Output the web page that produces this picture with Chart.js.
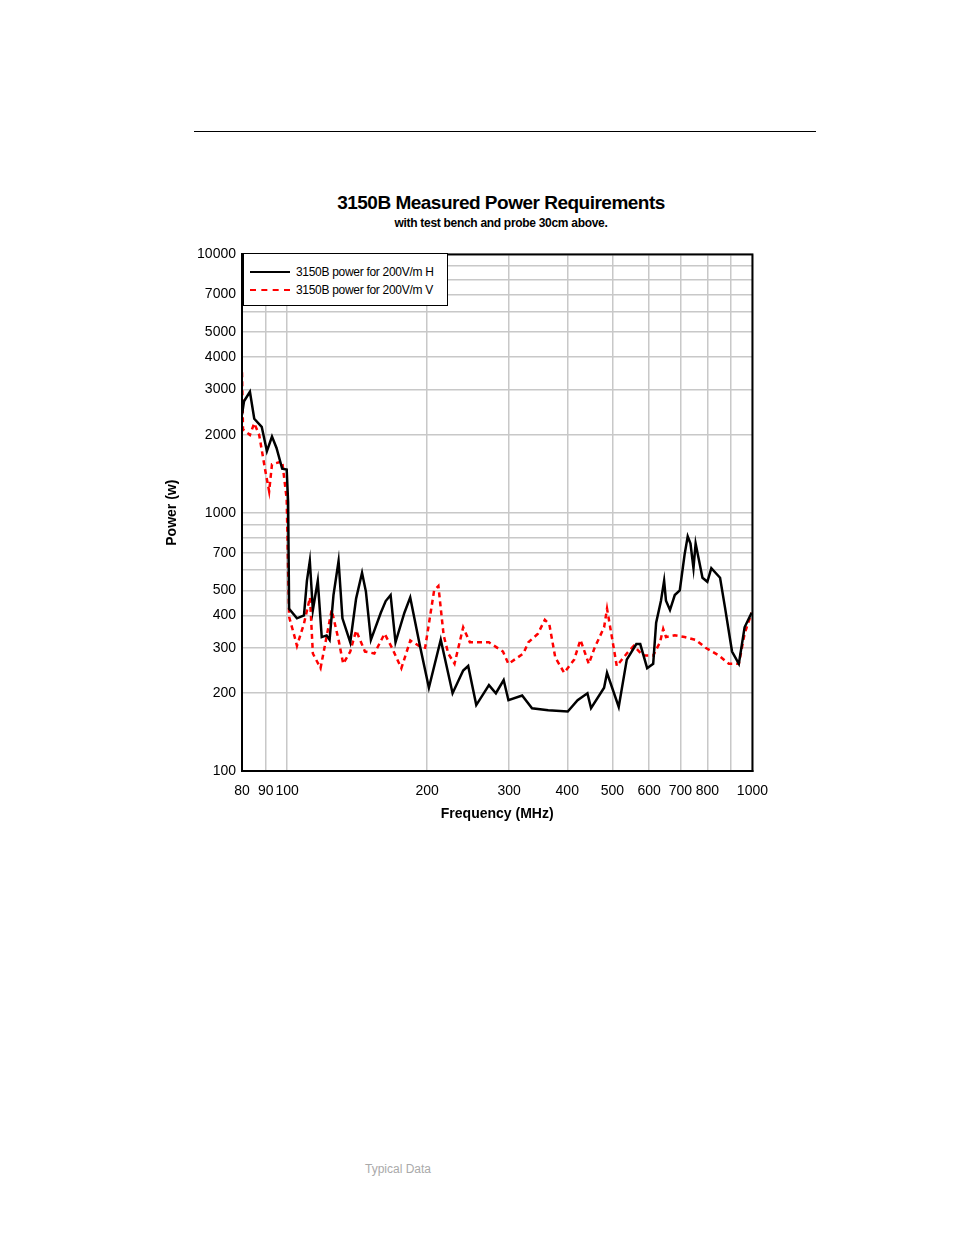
<!DOCTYPE html>
<html>
<head>
<meta charset="utf-8">
<script src="https://cdn.jsdelivr.net/npm/chart.js@4"></script>
<style>
  body { margin: 0; width: 954px; height: 1235px; background: #fff; position: relative; font-family: "Liberation Sans", Arial, sans-serif; }
  #rule { position: absolute; left: 194px; top: 131px; width: 622px; height: 1px; background: #000; }
  #title { position: absolute; left: 0; width: 1002px; top: 192px; text-align: center; font-weight: bold; font-size: 19px; letter-spacing: -0.5px; }
  #subtitle { position: absolute; left: 0; width: 1002px; top: 216px; text-align: center; font-weight: bold; font-size: 12px; letter-spacing: -0.3px; }
  #wrap { position: absolute; left: 160px; top: 240px; width: 620px; height: 583px; }
  #legend { position: absolute; left: 243px; top: 253px; width: 205px; height: 53px; border: 1.5px solid #000; background: #fff; font-size: 12px; box-sizing: border-box; }
  .row { position: absolute; left: 6px; height: 16px; display: flex; align-items: center; white-space: nowrap; letter-spacing: -0.3px; }
  .sw { width: 40px; margin-right: 6px; }
  #note { position: absolute; left: 365px; top: 1162px; font-family: Arial, sans-serif; font-size: 12px; color: #aaa; }
</style>
</head>
<body>
<div id="rule"></div>
<div id="title">3150B Measured Power Requirements</div>
<div id="subtitle">with test bench and probe 30cm above.</div>
<div id="wrap"><canvas id="chart"></canvas></div>
<div id="legend">
  <div class="row" style="top:10px"><div class="sw" style="border-top:2.5px solid #000"></div>3150B power for 200V/m H</div>
  <div class="row" style="top:28px"><div class="sw" style="border-top:2.5px dashed #f00"></div>3150B power for 200V/m V</div>
</div>
<div id="note">Typical Data</div>
<script>
// 周波数 (MHz) と電力 (W)
const freqH = [80,80.8,83.2,85,88.2,90.5,92.8,94.9,97.6,99.8,100.5,101,105,108.7,110.3,111.9,113.6,116.4,118.7,121.6,123.4,125.8,129,131.5,136.7,140.7,144.9,147.7,151.4,159,162.9,166.9,171,178.7,183.9,193,201.7,213.9,226.8,239,245,255,271.5,281,292,299,320,336,364,401,421,442,450,480,487,516,537,563,574,594,612,621,636,646,652,665,681,698,715,726,736,747,755,781,800,816,852,873,904,935,962,996];
const powerH = [2400,2700,2940,2310,2150,1730,1970,1780,1480,1470,1100,425,390,400,545,650,420,545,330,335,322,480,650,390,315,465,585,495,322,410,455,480,315,410,470,305,210,322,200,245,255,180,215,200,225,188,196,175,172,170,188,200,175,210,240,177,270,310,310,250,260,375,456,545,456,420,480,500,690,810,760,610,760,560,540,610,560,430,290,260,360,410];
const freqV = [80,80.4,83.2,85,87.1,89.8,91.5,92.8,97.6,99.8,101,103.6,105,108.7,112,113.6,118,124.7,129,132,136.7,140.7,147,154,162,168,176,184,192,198,207,211.4,217,222,229,239,247,271.5,291,299,322,330,346,358,366,377,394,414,427,445,458,480,487,500,511,537,556,582,612,633,643,652,681,715,755,793,847,890,935,962,996];
const powerV = [3500,2100,2000,2220,2000,1450,1210,1540,1580,1130,395,335,305,372,470,285,250,420,322,260,290,350,290,285,340,300,250,320,305,300,500,520,335,285,260,360,315,315,290,260,285,315,340,385,370,275,240,270,322,260,300,360,425,322,255,285,305,280,280,315,355,330,335,330,322,300,280,260,260,340,410];

// 目盛り
const xTicks = [80,90,100,200,300,400,500,600,700,800,900,1000];
const xLabels = ['80','90','100','200','300','400','500','600','700','800','','1000'];
const yTicks = [100,200,300,400,500,600,700,800,900,1000,2000,3000,4000,5000,6000,7000,8000,9000,10000];
const yLabels = ['100','200','300','400','500','','700','','','1000','2000','3000','4000','5000','','7000','','','10000'];

const toPts = (xs, ys) => xs.map((x, i) => ({ x, y: ys[i] }));
const font = { family: '"Liberation Sans", Arial, sans-serif', size: 14 };

new Chart(document.getElementById('chart'), {
  type: 'scatter',
  data: {
    datasets: [
      { data: toPts(freqH, powerH), showLine: true, borderColor: '#000', borderWidth: 2.5, pointRadius: 0, tension: 0 },
      { data: toPts(freqV, powerV), showLine: true, borderColor: '#f00', borderWidth: 2.5, borderDash: [5, 4], pointRadius: 0, tension: 0 }
    ]
  },
  options: {
    animation: false,
    responsive: true,
    maintainAspectRatio: false,
    layout: { padding: { top: 12, right: 19, left: 0, bottom: 0 } },
    plugins: { legend: { display: false }, tooltip: { enabled: false } },
    scales: {
      x: {
        type: 'logarithmic', min: 80, max: 1000,
        afterBuildTicks: s => { s.ticks = xTicks.map(v => ({ value: v })); },
        afterFit: s => { s.height = 52; },
        ticks: { color: '#000', font, autoSkip: false, maxRotation: 0, padding: 12, callback: (v, i) => xLabels[i] },
        grid: { color: '#c8c8c8', lineWidth: 1.5, drawTicks: false },
        border: { color: '#000', width: 2 },
        title: { display: true, text: 'Frequency (MHz)', color: '#000', font: { ...font, weight: 'bold' }, padding: 0 }
      },
      y: {
        type: 'logarithmic', min: 100, max: 10000,
        afterBuildTicks: s => { s.ticks = yTicks.map(v => ({ value: v })); },
        afterFit: s => { s.width = 82; },
        ticks: { color: '#000', font, autoSkip: false, padding: 6, callback: (v, i) => yLabels[i] },
        grid: { color: '#c8c8c8', lineWidth: 1.5, drawTicks: false },
        border: { color: '#000', width: 2 },
        title: { display: true, text: 'Power (w)', color: '#000', font: { ...font, weight: 'bold' } }
      }
    }
  },
  plugins: [{
    id: 'frame',
    afterDraw(chart) {
      const { ctx, chartArea: a } = chart;
      ctx.save();
      ctx.strokeStyle = '#000';
      ctx.lineWidth = 2;
      ctx.strokeRect(a.left, a.top, a.right - a.left, a.bottom - a.top);
      ctx.restore();
    }
  }]
});
</script>
</body>
</html>
